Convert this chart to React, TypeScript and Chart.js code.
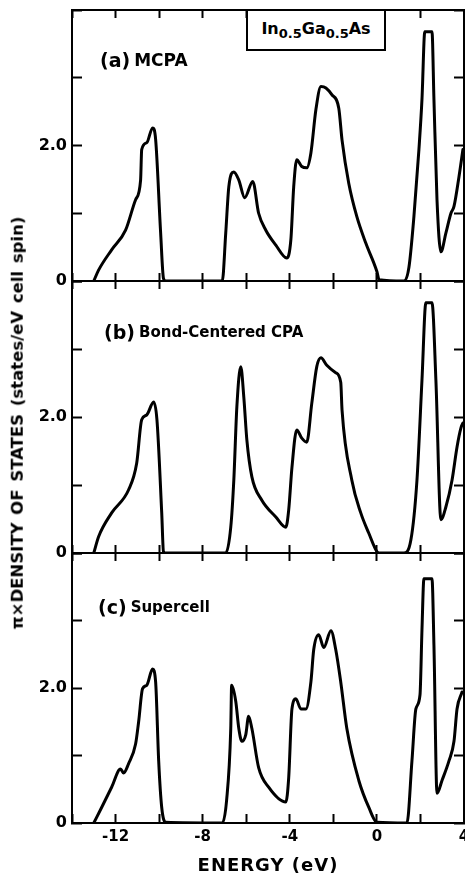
import { useEffect, useRef } from "react";
import { Chart, registerables } from "chart.js";

Chart.register(...registerables);

// ---- data (energy in eV, pi x density of states) ----
const energyA = [-13.0, -12.78, -12.18, -11.54, -11.08, -10.85, -10.8, -10.57, -10.3, -10.16, -9.93, -9.8, -9.7, -7.1, -6.94, -6.8, -6.57, -6.34, -6.07, -5.7, -5.43, -5.1, -4.64, -4.14, -3.95, -3.82, -3.68, -3.45, -3.22, -3.03, -2.8, -2.57, -2.34, -2.07, -1.75, -1.6, -1.29, -0.92, -0.51, 0.0, 0.1, 1.24, 1.47, 1.7, 1.93, 2.07, 2.2, 2.53, 2.62, 2.76, 2.94, 3.17, 3.4, 3.54, 3.77, 3.95];
const dosA = [0, 0.16, 0.46, 0.75, 1.2, 1.49, 1.94, 2.04, 2.26, 2.09, 0.71, 0.04, 0, 0, 0.71, 1.39, 1.61, 1.49, 1.23, 1.47, 1.0, 0.75, 0.53, 0.34, 0.61, 1.39, 1.79, 1.69, 1.67, 1.89, 2.53, 2.87, 2.85, 2.75, 2.55, 2.08, 1.44, 0.95, 0.56, 0.14, 0.02, 0, 0.2, 0.95, 1.94, 2.68, 3.68, 3.68, 2.68, 1.2, 0.43, 0.71, 1.0, 1.1, 1.54, 1.94];

const energyB = [-13.0, -12.78, -12.18, -11.4, -11.03, -10.8, -10.57, -10.25, -10.1, -9.88, -9.8, -9.7, -6.94, -6.71, -6.57, -6.43, -6.25, -6.11, -5.97, -5.74, -5.29, -4.64, -4.18, -4.05, -3.9, -3.68, -3.45, -3.22, -2.99, -2.76, -2.57, -2.3, -1.89, -1.66, -1.6, -1.15, -0.74, -0.37, 0.0, 0.1, 1.24, 1.56, 1.84, 2.07, 2.25, 2.53, 2.71, 2.94, 3.17, 3.45, 3.68, 3.86, 3.95];
const dosB = [0, 0.24, 0.59, 0.93, 1.32, 1.96, 2.03, 2.22, 1.96, 0.59, 0.02, 0, 0, 0.38, 1.07, 2.15, 2.74, 2.29, 1.66, 1.12, 0.78, 0.53, 0.38, 0.63, 1.26, 1.81, 1.69, 1.63, 2.2, 2.74, 2.87, 2.76, 2.65, 2.51, 2.1, 1.07, 0.59, 0.29, 0.02, 0, 0, 0.19, 1.07, 2.54, 3.68, 3.68, 2.54, 0.49, 0.68, 1.07, 1.56, 1.84, 1.91];

const energyC = [-13.0, -12.64, -12.18, -11.77, -11.63, -11.4, -11.08, -10.94, -10.76, -10.57, -10.3, -10.16, -10.02, -9.88, -9.7, -7.1, -6.9, -6.71, -6.67, -6.48, -6.34, -6.2, -6.02, -5.89, -5.74, -5.43, -4.97, -4.18, -4.05, -3.9, -3.72, -3.49, -3.26, -3.03, -2.9, -2.67, -2.44, -2.11, -1.89, -1.66, -1.38, -0.83, -0.37, 0.0, 1.38, 1.61, 1.79, 1.98, 2.07, 2.16, 2.53, 2.62, 2.76, 2.99, 3.31, 3.54, 3.68, 3.91];
const dosC = [0, 0.23, 0.53, 0.8, 0.74, 0.88, 1.17, 1.5, 1.99, 2.04, 2.28, 2.09, 0.92, 0.23, 0.01, 0, 0.34, 1.4, 2.04, 1.8, 1.4, 1.21, 1.31, 1.58, 1.4, 0.82, 0.53, 0.31, 0.67, 1.69, 1.84, 1.69, 1.69, 2.09, 2.57, 2.79, 2.6, 2.85, 2.57, 2.09, 1.4, 0.63, 0.23, 0.01, 0, 0.92, 1.69, 1.9, 2.86, 3.62, 3.62, 2.63, 0.44, 0.63, 0.92, 1.21, 1.69, 1.94];

const panelTags = ["(a)", "(b)", "(c)"];
const panelNames = ["MCPA", "Bond-Centered CPA", "Supercell"];

const xLabeledTicks = [-12, -8, -4, 0, 4];
const xTickLabels = ["-12", "-8", "-4", "0", "4"];
const yLabeledTicks = [0, 2];
const yTickLabels = ["0", "2.0"];

const X_MIN = -14;
const X_MAX = 4;
const Y_MIN = 0;
const Y_MAX = 4;

// ---- layout ----
const W = 465;
const H = 878;
const FONT = '"DejaVu Sans", "Liberation Sans", sans-serif';
const panelTops = [10, 281, 553];
const panelBottoms = [281, 553, 823];

function resetPad(s: any) {
  s.paddingLeft = 0;
  s.paddingRight = 0;
  s.paddingTop = 0;
  s.paddingBottom = 0;
}

function Panel({ energy, dos, top, bottom, showX }: { energy: number[]; dos: number[]; top: number; bottom: number; showX: boolean }) {
  const ref = useRef<HTMLCanvasElement>(null);
  useEffect(() => {
    const xFont = { family: FONT, size: 15, weight: "bold" as const };
    const yFont = { family: FONT, size: 16, weight: "bold" as const };
    const chart = new Chart(ref.current!, {
      type: "line",
      data: {
        datasets: [
          {
            data: energy.map((x, i) => ({ x, y: dos[i] })),
            borderColor: "#000",
            borderWidth: 3,
            pointRadius: 0,
            fill: false,
            cubicInterpolationMode: "monotone",
            borderJoinStyle: "round",
            borderCapStyle: "round",
            xAxisID: "x",
            yAxisID: "y",
          },
        ],
      },
      options: {
        animation: false,
        responsive: false,
        devicePixelRatio: 1,
        events: [],
        layout: { padding: { top, right: 1, left: 0, bottom: 0 } },
        plugins: { legend: { display: false }, tooltip: { enabled: false } },
        scales: {
          x: {
            type: "linear",
            position: "bottom",
            min: X_MIN,
            max: X_MAX,
            ticks: {
              stepSize: 2,
              autoSkip: false,
              maxRotation: 0,
              padding: 14,
              color: "#000",
              font: xFont,
              callback: (v: any) => {
                const k = xLabeledTicks.indexOf(Number(v));
                return showX && k >= 0 ? xTickLabels[k] : "";
              },
            },
            grid: { drawOnChartArea: false, drawTicks: true, tickLength: showX ? -9 : -8, tickColor: "#000", tickWidth: 2 },
            border: { display: true, color: "#000", width: 2 },
            afterFit: (s: any) => {
              s.height = H - bottom;
              resetPad(s);
            },
          },
          xTop: {
            type: "linear",
            position: "top",
            min: X_MIN,
            max: X_MAX,
            ticks: { stepSize: 2, display: false },
            grid: { drawOnChartArea: false, drawTicks: true, tickLength: -8, tickColor: "#000", tickWidth: 2 },
            border: { display: true, color: "#000", width: 2 },
            afterFit: (s: any) => {
              s.height = 0;
              resetPad(s);
            },
          },
          y: {
            type: "linear",
            position: "left",
            min: Y_MIN,
            max: Y_MAX,
            ticks: {
              stepSize: 1,
              padding: 15,
              color: "#000",
              font: yFont,
              callback: (v: any) => {
                const k = yLabeledTicks.indexOf(Number(v));
                return k >= 0 ? yTickLabels[k] : "";
              },
            },
            grid: { drawOnChartArea: false, drawTicks: true, tickLength: -10, tickColor: "#000", tickWidth: 2 },
            border: { display: true, color: "#000", width: 2 },
            afterFit: (s: any) => {
              s.width = 72;
              resetPad(s);
            },
          },
          yRight: {
            type: "linear",
            position: "right",
            min: Y_MIN,
            max: Y_MAX,
            ticks: { stepSize: 1, display: false },
            grid: { drawOnChartArea: false, drawTicks: true, tickLength: -10, tickColor: "#000", tickWidth: 2 },
            border: { display: true, color: "#000", width: 2 },
            afterFit: (s: any) => {
              s.width = 0;
              resetPad(s);
            },
          },
        },
      } as any,
    });
    return () => chart.destroy();
  }, []);
  return <canvas ref={ref} width={W} height={H} style={{ position: "absolute", left: 0, top: 0 }} />;
}

const panelLabelPos = [
  { left: 100, top: 49, nameSize: 17 },
  { left: 104, top: 321, nameSize: 15 },
  { left: 98, top: 596, nameSize: 15 },
];

export default function App() {
  const energies = [energyA, energyB, energyC];
  const doses = [dosA, dosB, dosC];
  return (
    <div
      style={{
        position: "absolute",
        left: 0,
        top: 0,
        width: W,
        height: H,
        overflow: "hidden",
        background: "#fff",
        fontFamily: FONT,
        fontWeight: "bold",
        color: "#000",
      }}
    >
      {energies.map((e, i) => (
        <Panel key={i} energy={e} dos={doses[i]} top={panelTops[i]} bottom={panelBottoms[i]} showX={i === 2} />
      ))}
      {panelTags.map((t, i) => (
        <div
          key={"lbl" + i}
          style={{
            position: "absolute",
            left: panelLabelPos[i].left,
            top: panelLabelPos[i].top,
            height: 22,
            display: "flex",
            alignItems: "center",
            whiteSpace: "nowrap",
            lineHeight: 1,
          }}
        >
          <span style={{ fontSize: 19, fontWeight: "bold", marginRight: 4 }}>{t}</span>
          <span style={{ fontSize: panelLabelPos[i].nameSize }}>{panelNames[i]}</span>
        </div>
      ))}
      <div
        style={{
          position: "absolute",
          left: 246,
          top: 9,
          width: 140,
          height: 42,
          boxSizing: "border-box",
          border: "2px solid #000",
          display: "flex",
          alignItems: "center",
          justifyContent: "center",
          fontSize: 16,
          whiteSpace: "nowrap",
          background: "#fff",
        }}
      >
        <span>
          In<sub style={{ fontSize: 13 }}>0.5</sub>Ga<sub style={{ fontSize: 13 }}>0.5</sub>As
        </span>
      </div>
      <div
        style={{
          position: "absolute",
          left: 18,
          top: 423,
          transform: "translate(-50%, -50%) rotate(-90deg)",
          whiteSpace: "nowrap",
          fontSize: 16.5,
          wordSpacing: 2,
          lineHeight: 1,
        }}
      >
        π×DENSITY OF STATES (states/eV cell spin)
      </div>
      <div
        style={{
          position: "absolute",
          left: 268,
          top: 865,
          transform: "translate(-50%, -50%)",
          whiteSpace: "nowrap",
          fontSize: 18,
          letterSpacing: 1,
          lineHeight: 1,
        }}
      >
        ENERGY (eV)
      </div>
    </div>
  );
}
